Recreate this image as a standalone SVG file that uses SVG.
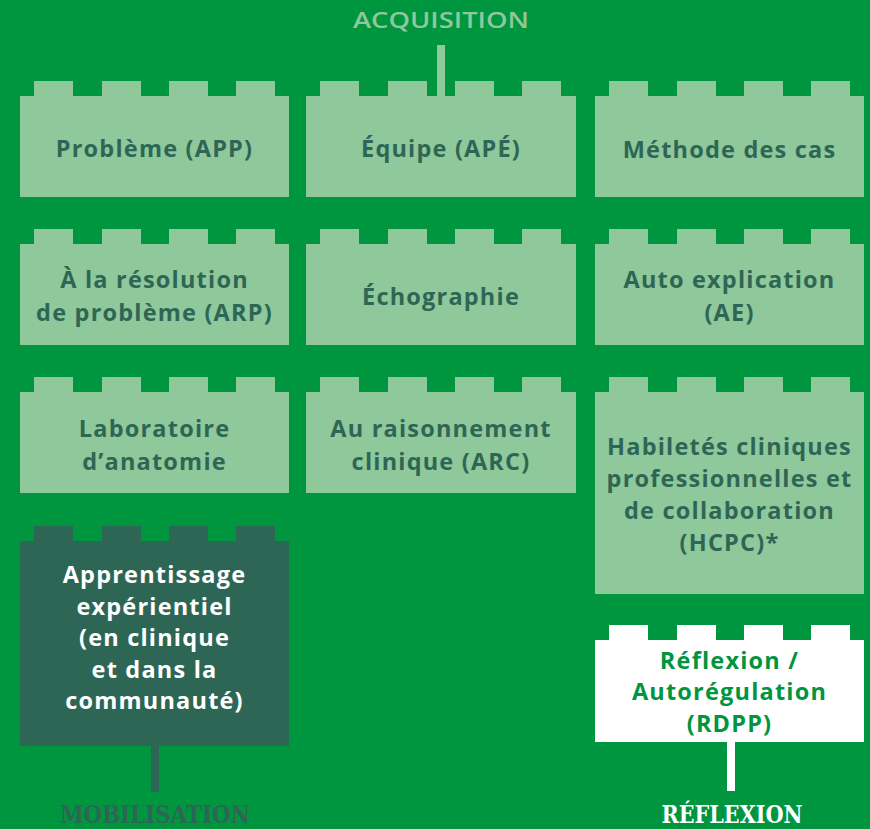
<svg xmlns="http://www.w3.org/2000/svg" xmlns:xlink="http://www.w3.org/1999/xlink" width="870" height="829" viewBox="0 0 870 829">
  <style>
    .bg { fill: #00953f; }
    .light { fill: #8fc89a; }
    .dark { fill: #2e6655; }
    .white { fill: #ffffff; }
    .lbl { font-family: "Open Sans", "Lato", sans-serif; font-weight: 700; font-size: 23.5px; letter-spacing: 1.2px; text-anchor: middle; }
    .t-dark { fill: #2e6655; }
    .t-white { fill: #ffffff; }
    .t-green { fill: #00953f; }
    .hdr-sans { font-family: "Open Sans", "Lato", sans-serif; font-weight: 600; font-size: 22px; text-anchor: middle; }
    .hdr-slab { font-family: "DejaVu Serif", "Liberation Serif", serif; font-weight: 700; font-size: 24px; text-anchor: middle; }
  </style>
  <defs>
    <!-- four studs on top of a brick, origin = brick's top-left corner -->
    <g id="studs">
      <rect x="14" y="-15" width="39" height="16"/>
      <rect x="82" y="-15" width="39" height="16"/>
      <rect x="149" y="-15" width="39" height="16"/>
      <rect x="216" y="-15" width="39" height="16"/>
    </g>
  </defs>

  <rect class="bg" x="0" y="0" width="870" height="829"/>

  <!-- connectors -->
  <g id="connectors">
    <rect class="light" x="437" y="45" width="8" height="52"/>
    <rect class="dark" x="151" y="745" width="8" height="47"/>
    <rect class="white" x="727" y="741" width="8" height="50"/>
  </g>

  <!-- axis labels -->
  <text class="hdr-sans" x="441" y="28" fill="#8fc89a" textLength="176" lengthAdjust="spacingAndGlyphs">ACQUISITION</text>
  <text class="hdr-slab" x="155" y="823" fill="#2e6655" textLength="190" lengthAdjust="spacingAndGlyphs">MOBILISATION</text>
  <text class="hdr-slab" x="732" y="823" fill="#ffffff" textLength="141" lengthAdjust="spacingAndGlyphs">RÉFLEXION</text>

  <!-- row 1 -->
  <g id="app" class="light">
    <use xlink:href="#studs" transform="translate(20,96)"/>
    <rect x="20" y="96" width="269" height="101"/>
    <text class="lbl t-dark" x="154.5" y="157">Problème (APP)</text>
  </g>
  <g id="ape" class="light">
    <use xlink:href="#studs" transform="translate(306,96)"/>
    <rect x="306" y="96" width="270" height="101"/>
    <text class="lbl t-dark" x="441" y="157">Équipe (APÉ)</text>
  </g>
  <g id="cas" class="light">
    <use xlink:href="#studs" transform="translate(595,96)"/>
    <rect x="595" y="96" width="269" height="101"/>
    <text class="lbl t-dark" x="729.5" y="158">Méthode des cas</text>
  </g>

  <!-- row 2 -->
  <g id="arp" class="light">
    <use xlink:href="#studs" transform="translate(20,244)"/>
    <rect x="20" y="244" width="269" height="101"/>
    <text class="lbl t-dark" x="154.5" y="288">À la résolution</text>
    <text class="lbl t-dark" x="154.5" y="321">de problème (ARP)</text>
  </g>
  <g id="echo" class="light">
    <use xlink:href="#studs" transform="translate(306,244)"/>
    <rect x="306" y="244" width="270" height="101"/>
    <text class="lbl t-dark" x="441" y="305">Échographie</text>
  </g>
  <g id="ae" class="light">
    <use xlink:href="#studs" transform="translate(595,244)"/>
    <rect x="595" y="244" width="269" height="101"/>
    <text class="lbl t-dark" x="729.5" y="288">Auto explication</text>
    <text class="lbl t-dark" x="729.5" y="321">(AE)</text>
  </g>

  <!-- row 3 -->
  <g id="anat" class="light">
    <use xlink:href="#studs" transform="translate(20,392)"/>
    <rect x="20" y="392" width="269" height="101"/>
    <text class="lbl t-dark" x="154.5" y="437">Laboratoire</text>
    <text class="lbl t-dark" x="154.5" y="470">d’anatomie</text>
  </g>
  <g id="arc" class="light">
    <use xlink:href="#studs" transform="translate(306,392)"/>
    <rect x="306" y="392" width="270" height="101"/>
    <text class="lbl t-dark" x="441" y="437">Au raisonnement</text>
    <text class="lbl t-dark" x="441" y="470">clinique (ARC)</text>
  </g>
  <g id="hcpc" class="light">
    <use xlink:href="#studs" transform="translate(595,392)"/>
    <rect x="595" y="392" width="269" height="202"/>
    <text class="lbl t-dark" x="729.5" y="455">Habiletés cliniques</text>
    <text class="lbl t-dark" x="729.5" y="487">professionnelles et</text>
    <text class="lbl t-dark" x="729.5" y="519">de collaboration</text>
    <text class="lbl t-dark" x="729.5" y="551">(HCPC)*</text>
  </g>

  <!-- row 4 -->
  <g id="experientiel" class="dark">
    <use xlink:href="#studs" transform="translate(20,541)"/>
    <rect x="20" y="541" width="269" height="205"/>
    <text class="lbl t-white" x="154.5" y="583">Apprentissage</text>
    <text class="lbl t-white" x="154.5" y="615">expérientiel</text>
    <text class="lbl t-white" x="154.5" y="646">(en clinique</text>
    <text class="lbl t-white" x="154.5" y="678">et dans la</text>
    <text class="lbl t-white" x="154.5" y="709">communauté)</text>
  </g>
  <g id="rdpp" class="white">
    <use xlink:href="#studs" transform="translate(595,640)"/>
    <rect x="595" y="640" width="269" height="102"/>
    <text class="lbl t-green" x="729.5" y="669">Réflexion /</text>
    <text class="lbl t-green" x="729.5" y="700">Autorégulation</text>
    <text class="lbl t-green" x="729.5" y="732">(RDPP)</text>
  </g>
</svg>
